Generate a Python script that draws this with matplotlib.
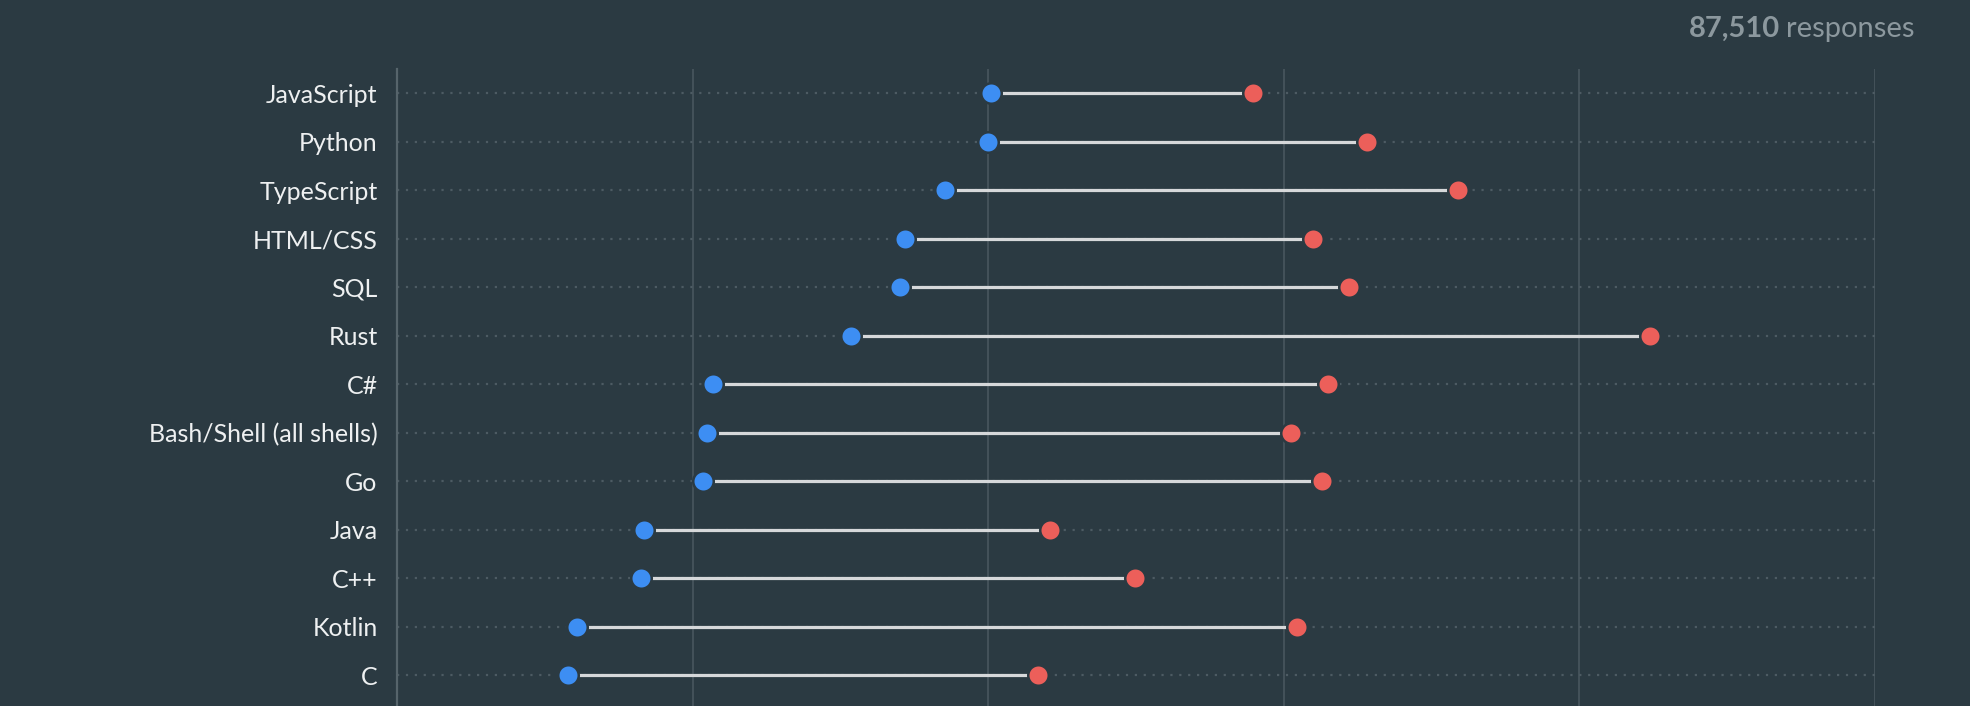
import numpy as np
import matplotlib
matplotlib.use("Agg")
import matplotlib.pyplot as plt

# values (percent)
languages = ["JavaScript", "Python", "TypeScript", "HTML/CSS", "SQL", "Rust", "C#",
             "Bash/Shell (all shells)", "Go", "Java", "C++", "Kotlin", "C"]
desired = [40.2, 40.0, 37.1, 34.4, 34.0, 30.7, 21.4, 21.0, 20.7, 16.7, 16.5, 12.2, 11.6]
admired = [57.9, 65.6, 71.8, 62.0, 64.4, 84.8, 63.0, 60.5, 62.6, 44.2, 49.9, 60.9, 43.4]
gridlines = [20, 40, 60, 80, 100]
responses = "87,510"

bg = "#2b3a42"
plt.rcParams["font.family"] = ["Lato", "DejaVu Sans"]

W, H = 1970, 706
fig = plt.figure(figsize=(W / 100, H / 100), dpi=100, facecolor=bg)
ax = fig.add_axes([397 / W, 0, (1875 - 397) / W, 1 - 69 / H])
ax.set_facecolor(bg)

y = np.arange(len(languages))

# dotted row guides
ax.hlines(y, 0, 100, colors="#4d5b63", linestyles=(0, (1, 3)), lw=1.6, zorder=1)
# vertical grid
for g in gridlines:
    ax.axvline(g, color="#46545c", lw=1.3, zorder=0)

# connectors + dots
ax.hlines(y, desired, admired, colors="#d6d8da", lw=2.3, zorder=2)
ax.scatter(desired, y, s=218, color="#3d8ef3", edgecolors=bg, linewidths=1.8, zorder=3)
ax.scatter(admired, y, s=218, color="#ec5f5a", edgecolors=bg, linewidths=1.8, zorder=3)

ax.set_xlim(0, 100)
ax.set_ylim(12 + 31 / 48.5, -0.5)
ax.set_xticks([])
ax.set_yticks(y, languages)
ax.tick_params(axis="y", length=0, pad=14, labelsize=18, labelcolor="#eef0f1")

for s in ["top", "right", "bottom"]:
    ax.spines[s].set_visible(False)
ax.spines["left"].set_color("#56646b")
ax.spines["left"].set_linewidth(1.6)

# "87,510 responses" in the top right corner
fig.canvas.draw()
t2 = fig.text(1915 / W, 1 - 37 / H, "responses", ha="right", va="baseline",
              fontsize=21, color="#8c989e")
fig.canvas.draw()
bb = t2.get_window_extent()
fig.text((bb.x0 - 7) / W, 1 - 37 / H, responses, ha="right", va="baseline",
         fontsize=21, fontweight="bold", color="#8c989e")

fig.savefig("out.png", dpi=100, facecolor=bg)
